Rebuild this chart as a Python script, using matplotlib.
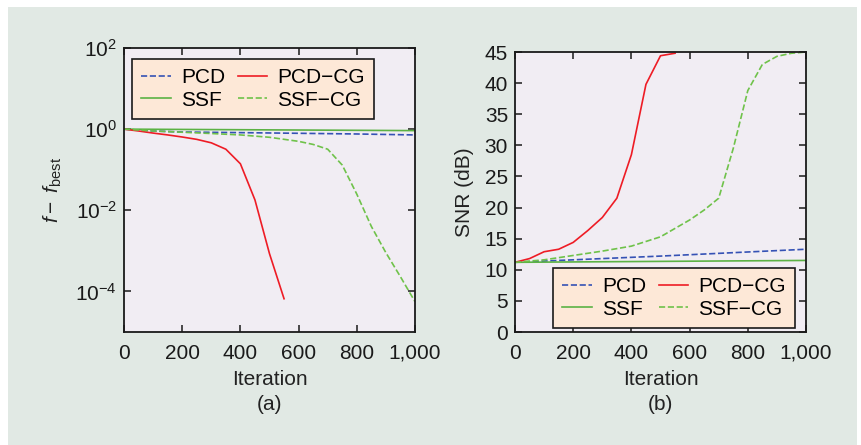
import matplotlib.pyplot as plt
from matplotlib.patches import Rectangle
from matplotlib.ticker import FixedLocator, NullLocator

plt.rcParams['font.family'] = ['Liberation Sans', 'DejaVu Sans']
plt.rcParams['mathtext.fontset'] = 'custom'
plt.rcParams['mathtext.rm'] = 'Liberation Sans'
plt.rcParams['mathtext.it'] = 'Liberation Sans:italic'
plt.rcParams['mathtext.default'] = 'regular'

# (a) objective gap vs iteration
pcd_x = [0, 100, 200, 400, 600, 800, 1000]
pcd_gap = [1.0, 0.9, 0.85, 0.82, 0.79, 0.76, 0.72]
ssf_x = [0, 1000]
ssf_gap = [1.0, 0.92]
pcdcg_x = [0, 50, 100, 150, 200, 250, 300, 350, 400, 450, 500, 550]
pcdcg_gap = [1.0, 0.9, 0.8, 0.72, 0.64, 0.56, 0.46, 0.32, 0.14, 0.018, 8.5e-4, 6.6e-5]
ssfcg_x = [0, 100, 200, 300, 400, 500, 600, 650, 700, 750, 800, 850, 900, 950, 1000]
ssfcg_gap = [1.0, 0.9, 0.84, 0.78, 0.72, 0.63, 0.5, 0.42, 0.32, 0.13, 0.025, 0.004, 9e-4, 2.3e-4, 5.6e-5]

# (b) SNR vs iteration
pcd_snr_x = [0, 500, 1000]
pcd_snr = [11.2, 12.2, 13.3]
ssf_snr_x = [0, 1000]
ssf_snr = [11.2, 11.5]
pcdcg_snr_x = [0, 50, 100, 150, 200, 250, 300, 350, 400, 450, 500, 550]
pcdcg_snr = [11.2, 11.8, 12.9, 13.3, 14.4, 16.3, 18.4, 21.5, 28.5, 39.8, 44.4, 44.8]
ssfcg_snr_x = [0, 100, 200, 300, 400, 500, 600, 650, 700, 750, 800, 850, 900, 950, 1000]
ssfcg_snr = [11.2, 11.6, 12.3, 13.0, 13.8, 15.3, 18.0, 19.6, 21.5, 29.5, 38.8, 43.0, 44.3, 44.8, 45.0]

xticks = [0, 200, 400, 600, 800, 1000]
xtick_labels = ['0', '200', '400', '600', '800', '1,000']

c_blue = '#3552b5'
c_red = '#ee1c25'
c_green = '#5cb245'
c_green2 = '#6fc24a'
fs = 15

fig = plt.figure(figsize=(8.62, 4.45), dpi=100)
fig.patch.set_facecolor('white')
fig.patches.append(Rectangle((8 / 862, 0), 849 / 862, 438 / 445, transform=fig.transFigure,
                             facecolor='#e1e9e4', edgecolor='none', zorder=-10))

ax1 = fig.add_axes([124 / 862, 113 / 445, 291 / 862, 284 / 445])
ax2 = fig.add_axes([515 / 862, 113 / 445, 291 / 862, 280 / 445])

lw = 1.2
for ax in (ax1, ax2):
    ax.set_facecolor('#f1edf3')
    for s in ax.spines.values():
        s.set_linewidth(1.3)
        s.set_color('#1a1a1a')
    ax.tick_params(direction='in', top=True, right=True, length=5, width=1.1,
                   labelsize=fs, pad=5, colors='#1a1a1a')
    ax.tick_params(axis='x', pad=8.5)
    ax.set_xlim(0, 1000)
    ax.set_xticks(xticks)
    ax.set_xticklabels(xtick_labels)
    ax.set_xlabel('Iteration', fontsize=fs, labelpad=5, color='#222222')

ax1.plot(pcd_x, pcd_gap, '--', color=c_blue, lw=lw, label='PCD')
ax1.plot(ssf_x, ssf_gap, '-', color=c_green, lw=lw, label='SSF')
ax1.plot(pcdcg_x, pcdcg_gap, '-', color=c_red, lw=lw, label='PCD\u2212CG')
ax1.plot(ssfcg_x, ssfcg_gap, '--', color=c_green2, lw=lw, label='SSF\u2212CG')
ax1.set_yscale('log')
ax1.set_ylim(1e-5, 1e2)
ax1.yaxis.set_major_locator(FixedLocator([1e-4, 1e-2, 1e0, 1e2]))
ax1.yaxis.set_minor_locator(NullLocator())
ax1.set_ylabel(r'$\mathit{f}-\ \mathit{f}_{\mathrm{best}}$', fontsize=fs, labelpad=8, color='#222222')

ax2.plot(pcd_snr_x, pcd_snr, '--', color=c_blue, lw=lw, label='PCD')
ax2.plot(ssf_snr_x, ssf_snr, '-', color=c_green, lw=lw, label='SSF')
ax2.plot(pcdcg_snr_x, pcdcg_snr, '-', color=c_red, lw=lw, label='PCD\u2212CG')
ax2.plot(ssfcg_snr_x, ssfcg_snr, '--', color=c_green2, lw=lw, label='SSF\u2212CG')
ax2.set_ylim(0, 45)
ax2.set_yticks(range(0, 46, 5))
ax2.set_ylabel('SNR (dB)', fontsize=fs, labelpad=8, color='#222222')

legend_spots = ((ax1, 'upper left', (8 / 291, 1 - 11 / 284)),
                (ax2, 'lower right', (280 / 291, 4 / 280)))
for ax, loc, anchor in legend_spots:
    leg = ax.legend(ncol=2, loc=loc, bbox_to_anchor=anchor, fontsize=fs, frameon=True,
                    fancybox=False, handlelength=1.4, handletextpad=0.5, columnspacing=0.6,
                    labelspacing=0.15, borderpad=0.45, borderaxespad=0)
    leg.get_frame().set_facecolor('#fde8d7')
    leg.get_frame().set_edgecolor('#1a1a1a')
    leg.get_frame().set_linewidth(1.2)
    leg.get_frame().set_alpha(1)

fig.text((124 + 291 / 2) / 862, 40 / 445, '(a)', ha='center', va='center', fontsize=fs, color='#222222')
fig.text((515 + 291 / 2) / 862, 40 / 445, '(b)', ha='center', va='center', fontsize=fs, color='#222222')

fig.savefig('out.png', dpi=100)
